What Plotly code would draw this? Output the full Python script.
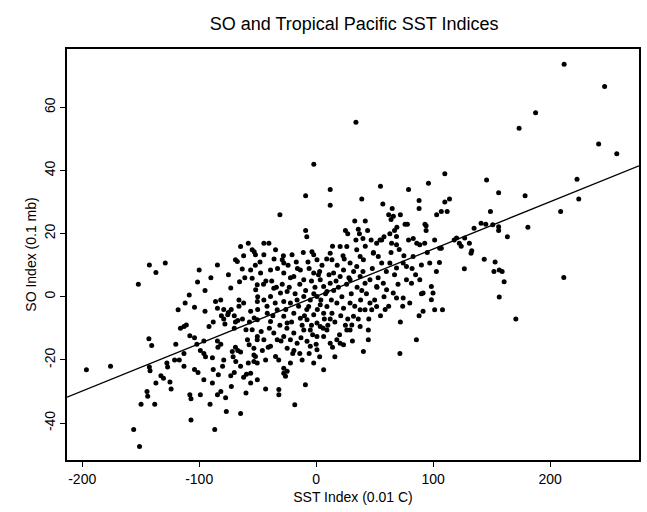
import plotly.graph_objects as go

# SST index (0.01 C) and SO index (0.1 mb)
sst_index = [
    34, -2, 12, -9, 12, -31, 39, 55, 79, 96, 110, 57, 65, 88, 88, 110, 103, 107, 112, 42,
    62, 64, 66, 76, 93, 33, 25, 36, 37, -9, -8, 67, 69, 94, 94, 40, 47, 79, 83,
    212, 246.6, 187.6, 173.5, 241.5, 257, 145.7, 223, 156, 178.6, 224.5, 114, 149, 209,
    135, 141, 145, 151, 156, 156, 181, 163.5, 120, 127,
    118, 122.4, 124, 131, 133, 132.4, 107, 105.4, 143.7, 126.7, 153, 152, 156.5, 159,
    160.7, 211.7, 156.5, 108, 170.7,
    -196.4, -175.8, -142.6, -129, -137, -152, -143, -140.6, -142.6, -142, -137, -144.6,
    -144, -149.7, -138, -156, -151, -132.7, -130.5, -127.6, -127, -125, -124, -121, -117,
    -113, -113, -108, -107, -107, -118, -116, -113, -111, -108.5, -108, -104, -101.4, -100,
    -104, -102, -99, -96, -94.6, -99, -104, -101, -96, -95, -91.6, -96, -88.7, -90.7,
    -86.7, -84.4, -84.4, -86, -88, -84.4, -81.5, -84.4, -81.5, -83.6, -81, -79, -78, -80,
    -79, -77.4, -76.8, -75, -72.6, -75, -70, -71.7, -73, -70, -72.5, -69, -67.4, -64.6,
    -63.2, -65.5, -73, -66, -62, -50, -69, -67, -63, -70, -69, -67, -64.6, -62, -59.6,
    -60, -64.6, -56, -54.7, -51.9, -54.7, -50.4, -56, -53, -54.7, -50.4, -51.9, -50.4, -50,
    -81.6, -79, -75.6, -60, -58.7, -57.3, -71, -68.7, -64.6, -84, -88.7, -58, -62,
    51.7, 54.6, 68.7, 64.5, 68.7, 88.6, 92.8, 101.3, 105.6,
    -44.7, -40.4, -53, -44.7, -34.7, -29, -27.7, -20.6, -3.6, -2.1, 0.7, 12, 13.5, 20.5,
    26.2, 34.7, 37.6, 40.4, 29, 34.7, 48.9, 53.1, 56, 63, 68.7, 74.4, 77.2, 82.9, 90,
    97.1, 102.8,
    -56, -47.5, -39, -27.7, -19.1, -13.5, -10.6, -2.1, 3.5, 6.4, 12, 9.2, 14.9, 20.5,
    23.4, 29, 37.6, 41.8, 46, 51.7, 57.4, 60.2, 65.9, 68.7, 77.2, 81.5, 88.6, 91.4, 98.5,
    99.9, 98.5, 74.4, 91.4, 101.3,
    -51.7, -50.3, -44.7, -39, -36.2, -30.5, -24.8, -27.7, -22, -16.3, -10.6, -6.4, 0.7,
    3.5, 9.2, 6.4, 13.5, 17.7, 23.4, 29, 31.9, 37.6, 41.8, 47.5, 51.7, 30.5, 29, 37.6,
    44.6, 44.6, 40.4, 85.7, 71.6,
    -50.3, -41.8, -39, -33.3, -27.7, -24.8, -19.1, -13.5, -7.8, -2.1, 0.7, 3.5, 9.2, -5,
    -10.6, 0.7, 6.4, 12, 17.7, 20.5, 23.4, 26.2,
    -50.3, -44.7, -36.2, -33.3, -27.7, -22, -19.1, -16.3, -7.8, -5, -53.2, -39, -24.8,
    0.7, -53.2, -53.2, -43.2, -34.7, -2.1, 6.4, -27.7, -24.8, -22, -27.7, -26.2, -56,
    -50.3, -43.2, -31.9, -31.9, -9.2, -18.3,
    -45, -42, -38, -35, -33, -31, -29, -26, -24, -23, -21, -18, -17, -15, -14, -12, -11,
    -9, -8, -6, -5, -4, -3, -1, 1, 2, 4, 5, 7, 8, 10, 11, 13, 15, 16, 18, 19, 21, 22, 24,
    26, 27, 30, 32, 33, 35, 38, 40, 43, 45, 48, 50, 53, 55, 58, 60, 62, 64, 70, 72, 75,
    80, 85, 88, 95, -48, -40, -36, -20, -12, 16, -95, -90, -112, -120, -88,
    -66, -61, -57, -52, -47, -43, -41, -37, -34, -30, -28, -25, -22, -19, -16, -13, -10,
    -7, -4, -2, 0, 3, 6, 9, 12, 14, 17, 20, 23, 25, 28, 31, 34, 36, 39, 42, 46, 49, 52,
    56, 59, 63, 67, 71, 74, 78, 82, 86, 90, -58, -46, -32, -14, -6, 3, 14, 27, 44, 58, 72,
]
so_index = [
    55.3, 42, 34, 32, 29, 26, 31, 35, 34, 36, 39, 29.4, 28, 30.5, 28, 30, 26, 27, 27, 24,
    26, 24.5, 25.5, 23, 23, 24, 21, 21.4, 20, 21, 19, 21, 22, 21, 22.5, 18.5, 18, 18, 18.5,
    73.7, 66.6, 58.3, 53.4, 48.4, 45.3, 37, 37.2, 33, 32, 31, 31, 27, 27,
    21.7, 23.3, 23, 22.8, 22.2, 21, 22, 19, 18.6, 18.6,
    18, 17, 16, 17, 14.6, 13.8, 15.4, 10.9, 11.9, 8.9, 11, 8, 8.5, 8,
    4.8, 6.1, -0.1, -4.1, -7,
    -23.1, -22, 10.1, 10.7, 7.7, 4, -13.3, -15.4, -22.2, -23.4, -27.3, -30,
    -31.5, -34, -34, -42, -47.4, -25, -25.8, -21, -22.2, -27, -29.2, -20, -20,
    -18, -22, -31, -32.3, -39, -4.1, -10, -9.4, -8.9, 0.6, -12.3, -3.3, 4.7, 8.5,
    -13, -15, -17, -18, -19, -31, -23, -24, -26.3, -4.6, -9.4, -14, -27.3, -34,
    -42, 10.1, -3.6, -1.5, -8, -14, -15, -31, -30, -24.7, -6, -7, -8.6, -22,
    -20, -32, -36.3, 7, -4, -5, -6, -17.3, -25, -24, -28.4, 11.7, 11.2, 15.9,
    8.8, 4.8, 2.8, -1, -2, 0, -8, -7.5, -7, -10, -16, -17, -17.5, -25.5, -24.5,
    -30.5, -37, -27.3, 14.9, 13.3, 5.9, 3.8, -4.6, -6.7, -10.4, -13.6, -18.9, -21, -4,
    -1, -4, -5.7, -10.4, -13.6, -15.2, -19, -20.5, -22, -16, -19.3, 17, 13,
    17, 18, 19.1, 17, 16.5, 16.5, 17, 18, 15.4,
    17, 17, 14.3, 13.3, 14.9, 11.7, 10.7, 13.3, 14.3, 13.3, 11.7, 13.8, 11.7, 15.9,
    15.9, 14.9, 12.8, 11.7, 10.7, 9.6, 13.8, 12.8, 10.7, 10.7, 9.1, 10.7, 9.6, 12.8, 10.1,
    10.7, 8,
    8.5, 7.5, 8.5, 7.5, 6.4, 8.5, 5.4, 7.5, 5.4, 3.3, 4.3, 1.7, 7.5, 6.4,
    8.5, 5.4, 6.4, 4.3, 5.4, 3.3, 4.3, 2.2, 1.2, -0.4, 5.4, 4.3, 5.4, 1.2, 3.3,
    1.2, -0.9, -0.4, -4.6, -4.1,
    2.2, -1.5, -1, 0.1, 2.7, 1.2, 1.7, -1.5, -2, -1, 0.1, -3.1, 0.1,
    -2.5, -3.1, -5.2, -5.2, -2, -3.6, -2, -6.2, -4.1, -4.1, -4.1, -3.1, -8.9, -10.5, -9.4,
    -10.5, -13.6, -17.3, -13.6, -18,
    -7.3, -5.2, -7.8, -4.1, -6.2, -8.3, -5.2, -6.8, -7.3, -5.7, -8.3, -9.4, -10.5, -10.5,
    -10.5, -12.6, -12.6, -14.7, -13.6, -14.7, -15.2, -10.5,
    -12.6, -13.6, -11.5, -13.6, -12.6, -13.6, -11.5, -14.7, -14.1, -15.7, -16.3, -15.7, -16.3,
    -16.8, -18.4, -20.5, -20, -18.9, -21, -23.1, -22.6, -23.6, -21, -24.2, -25.2, -24.2,
    -26.3, -29.2, -29.4, -31, -27.9, -34.2,
    4, -3, 5, -2, 9, -9, 4, -4, 10, 3, -8, 1, 11, -3, 4, -9, 14,
    2, -4, 9, -1, 5, -12, 3, -4, 7, -1, 10, -7, 1, -9, 7, -1, 2, -8, 10, 3, -6, 0, 12,
    4, -7, 1, 8, -3, 3, -1, 8, 1, -7, 9, -1, 6, -6, 0, 8, -3, 14, 4, -8, 13,
    -2, 7, -6, 14, 11, -10, 12, -18, -20, -19, 2, 6, -2, -15, -23,
    -3, 6, -8, 10, -11, 5, -16, -6, 3, -14, 13, -10, 6, -17, 9, -13, -6,
    11, -9, 1, -15, 8, -10, 12, -7, 16, 5, -12, 13, -9, 6, -14, 18, -7, 2, 16, -2, 14, 3,
    18, -4, 20, 7, 15, -3, 23, 9, 17, 1, -21, -17, -20, -18, -18, -19, -16, 20, 21, 19, 26,
]
assert len(sst_index) == len(so_index), (len(sst_index), len(so_index))

# least-squares line as drawn in the reference (endpoints at the plot edges)
fit_sst = [-213, 276]
fit_so = [-31.8, 41.5]

x_ticks = [-200, -100, 0, 100, 200]
x_labels = ["-200", "-100", "0", "100", "200"]
y_ticks = [-40, -20, 0, 20, 40, 60]
y_labels = ["-40", "-20", "0", "20", "40", "60"]

font_family = "Liberation Sans, Arial, Helvetica, sans-serif"

fig = go.Figure()
fig.add_trace(go.Scatter(
    x=sst_index, y=so_index, mode="markers",
    marker=dict(color="black", size=5, line=dict(width=0)),
    showlegend=False, hoverinfo="x+y",
))
fig.add_trace(go.Scatter(
    x=fit_sst, y=fit_so, mode="lines",
    line=dict(color="black", width=1.3),
    showlegend=False, hoverinfo="skip",
))

axis_common = dict(
    showgrid=False, zeroline=False, showline=True, linecolor="black", linewidth=1.5,
    mirror=True, ticks="outside", ticklen=5, tickwidth=1, tickcolor="black",
    tickfont=dict(family=font_family, size=14, color="black"),
)

fig.update_layout(
    width=647, height=512,
    margin=dict(l=67, r=6, t=49, b=52),
    paper_bgcolor="white", plot_bgcolor="white",
    font=dict(family=font_family, color="black"),
    title=dict(text="SO and Tropical Pacific SST Indices", x=0.5474, xanchor="center",
               y=0.953, yanchor="middle", font=dict(family=font_family, size=18, color="black")),
    xaxis=dict(range=[-213, 276], tickvals=x_ticks, ticktext=x_labels,
               title=dict(text="SST Index (0.01 C)", standoff=7,
                          font=dict(family=font_family, size=14, color="black")),
               **axis_common),
    yaxis=dict(range=[-51.7, 78.5], tickvals=y_ticks, ticktext=y_labels, tickangle=-90,
               title=dict(text="SO Index (0.1 mb)", standoff=2,
                          font=dict(family=font_family, size=14, color="black")),
               **axis_common),
)

fig.write_html("out.html")
